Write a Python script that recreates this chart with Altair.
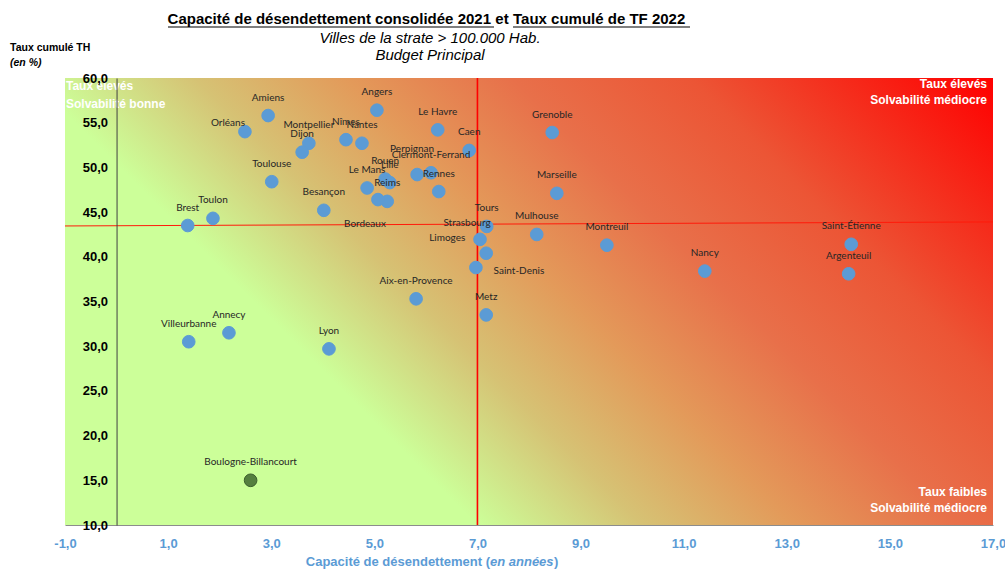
import altair as alt
import pandas as pd

# ---------------- data ----------------
CITIES = ["Amiens", "Orléans", "Montpellier", "Dijon", "Nîmes", "Nantes", "Angers",
          "Le Havre", "Caen", "Grenoble", "Toulouse", "Perpignan", "Clermont-Ferrand",
          "Rennes", "Le Mans", "Rouen", "Lille", "Reims", "Bordeaux", "Marseille",
          "Besançon", "Brest", "Toulon", "Tours", "Strasbourg", "Limoges", "Saint-Denis",
          "Mulhouse", "Montreuil", "Nancy", "Saint-Étienne", "Argenteuil",
          "Aix-en-Provence", "Metz", "Villeurbanne", "Annecy", "Lyon",
          "Boulogne-Billancourt"]
CAPACITE = [2.94, 2.49, 3.73, 3.60, 4.45, 4.76, 5.05,
            6.23, 6.84, 8.45, 3.01, 5.83, 6.10,
            6.25, 4.86, 5.21, 5.30, 5.25, 5.07, 8.54,
            4.02, 1.38, 1.87, 7.18, 7.05, 7.17, 6.97,
            8.15, 9.51, 11.41, 14.25, 14.20,
            5.81, 7.17, 1.40, 2.18, 4.12,
            2.60]
TAUX = [55.8, 54.0, 52.7, 51.7, 53.1, 52.7, 56.4,
        54.2, 51.9, 53.9, 48.4, 49.2, 49.4,
        47.3, 47.7, 48.7, 48.3, 46.2, 46.4, 47.1,
        45.2, 43.5, 44.3, 43.4, 41.95, 40.4, 38.8,
        42.5, 41.3, 38.4, 41.4, 38.1,
        35.3, 33.5, 30.5, 31.5, 29.7,
        15.0]
HIGHLIGHT = ["Boulogne-Billancourt"]

X_DOMAIN = [-1, 17]
Y_DOMAIN = [10, 60]
X_TICKS = [-1, 1, 3, 5, 7, 9, 11, 13, 15, 17]
Y_TICKS = [10, 15, 20, 25, 30, 35, 40, 45, 50, 55, 60]

# reference lines
VLINE_X = [7.0, 7.0]
VLINE_Y = [10, 60]
HLINE_X = [-1, 17]
HLINE_Y = [43.45, 43.9]

# label placement (pixel offsets from each dot), layout only
LABEL_OFFSETS = {
    "Orléans": (-17, -9),
    "Perpignan": (-5, -26),
    "Bordeaux": (-13, 24),
    "Strasbourg": (-13, -16),
    "Limoges": (-39, -15),
    "Saint-Denis": (43, 3),
}
DEFAULT_OFFSET = (0, -18)

# ---------------- layout ----------------
W, H = 928, 447
PAD = {"left": 65, "top": 78, "right": 12, "bottom": 45}
FONT = "Liberation Sans"
BLUE = "#5b9bd5"

df = pd.DataFrame({"city": CITIES, "x": CAPACITE, "y": TAUX})
df["off"] = [LABEL_OFFSETS.get(c, DEFAULT_OFFSET) for c in CITIES]
df["fill"] = ["#557f3f" if c in HIGHLIGHT else BLUE for c in CITIES]
df["stroke"] = ["#3b5e2c" if c in HIGHLIGHT else BLUE for c in CITIES]

label_expr = "replace(replace(format(datum.value, '.1f'), '.', ','), '\u2212', '-')"

x_scale = alt.Scale(domain=X_DOMAIN, nice=False, zero=False)
y_scale = alt.Scale(domain=Y_DOMAIN, nice=False, zero=False)

x_axis = alt.Axis(values=X_TICKS, labelExpr=label_expr, labelColor=BLUE, labelFont=FONT,
                  labelFontSize=13, labelFontWeight="bold", ticks=False, grid=False,
                  domainColor="#8c8c8c", domainWidth=1, labelPadding=12, title=None,
                  zindex=1, labelFlush=False, labelOverlap=False)
y_axis = alt.Axis(values=Y_TICKS, labelExpr=label_expr, labelColor="#000000", labelFont=FONT,
                  labelFontSize=13, labelFontWeight="bold", ticks=False, grid=False,
                  domainColor="#404040", domainWidth=1, labelPadding=9, title=None,
                  offset=-(W / (X_DOMAIN[1] - X_DOMAIN[0])) * (0 - X_DOMAIN[0]),
                  zindex=1, labelFlush=False, labelOverlap=False)

X = lambda: alt.X("x:Q", scale=x_scale, axis=x_axis)
Y = lambda: alt.Y("y:Q", scale=y_scale, axis=y_axis)

# gradient background over the whole plotting area
bg_df = pd.DataFrame({"x": [X_DOMAIN[0]], "x2": [X_DOMAIN[1]],
                      "y": [Y_DOMAIN[0]], "y2": [Y_DOMAIN[1]]})
gradient = alt.Gradient(
    gradient="linear",
    x1=0, y1=1, x2=1.2026, y2=0.4207,
    stops=[
        alt.GradientStop(color="#ccff99", offset=0),
        alt.GradientStop(color="#ccff99", offset=0.30),
        alt.GradientStop(color="#d6c274", offset=0.42),
        alt.GradientStop(color="#e39a5a", offset=0.53),
        alt.GradientStop(color="#e8704a", offset=0.65),
        alt.GradientStop(color="#ec5535", offset=0.78),
        alt.GradientStop(color="#ff0000", offset=1.0),
    ],
)
bg = alt.Chart(bg_df).mark_rect(fill=gradient, strokeWidth=0).encode(
    x=X(), x2="x2:Q", y=Y(), y2="y2:Q",
)

vline = alt.Chart(pd.DataFrame({"x": VLINE_X, "y": VLINE_Y})).mark_line(
    color="#ff0000", strokeWidth=1.6).encode(x=X(), y=Y())
hline = alt.Chart(pd.DataFrame({"x": HLINE_X, "y": HLINE_Y})).mark_line(
    color="#ff1a0a", strokeWidth=1).encode(x=X(), y=Y())

points = alt.Chart(df[["city", "x", "y", "fill", "stroke"]]).mark_circle(
    size=160, opacity=1, strokeWidth=1).encode(
    x=X(), y=Y(),
    fill=alt.Fill("fill:N", scale=None),
    stroke=alt.Stroke("stroke:N", scale=None),
)

# one text layer per label offset
label_layers = []
for off in sorted(set(df["off"])):
    sub = df[df["off"] == off][["city", "x", "y"]]
    label_layers.append(
        alt.Chart(sub).mark_text(font="Lato", fontSize=10, color="#262626",
                                 baseline="middle", align="center",
                                 dx=off[0], dy=off[1]).encode(
            x=X(), y=Y(), text="city:N")
    )

# ---------------- texts (titles and quadrant notes) ----------------
def txt(text, x, y, size, align="left", weight="normal", style="normal", color="#000000",
        font=FONT):
    return alt.Chart(pd.DataFrame({"t": [text]})).mark_text(
        align=align, baseline="middle", fontSize=size, fontWeight=weight, fontStyle=style,
        color=color, font=font).encode(x=alt.value(x), y=alt.value(y), text="t:N")

def uline(x1, x2, y):
    return alt.Chart(pd.DataFrame({"a": [0]})).mark_rule(color="#000000", strokeWidth=1.2).encode(
        x=alt.value(x1), x2=alt.value(x2), y=alt.value(y))

L, T = PAD["left"], PAD["top"]
texts = [
    txt("Capacité de désendettement consolidée 2021", 491 - L, 19 - T, 15, "right", "bold"),
    txt("et", 502 - L, 19 - T, 15, "center", "bold"),
    txt("Taux cumulé de TF 2022", 513 - L, 19 - T, 15, "left", "bold"),
    uline(168 - L, 494 - L, 27 - T),
    uline(513 - L, 690 - L, 27 - T),
    txt("Villes de la strate > 100.000 Hab.", 430 - L, 38 - T, 15, "center", "normal", "italic"),
    txt("Budget Principal", 430 - L, 55 - T, 15, "center", "normal", "italic"),
    txt("Taux cumulé  TH", 10 - L, 48 - T, 10.5, "left", "bold"),
    txt("(en %)", 10 - L, 63 - T, 10.5, "left", "bold", "italic"),
    txt("Taux élevés", 1, 86 - T, 12, "left", "bold", color="#ffffff"),
    txt("Solvabilité bonne", 1, 104 - T, 12, "left", "bold", color="#ffffff"),
    txt("Taux élevés", 987 - L, 84 - T, 12, "right", "bold", color="#ffffff"),
    txt("Solvabilité médiocre", 987 - L, 100 - T, 12, "right", "bold", color="#ffffff"),
    txt("Taux faibles", 987 - L, 492 - T, 12, "right", "bold", color="#ffffff"),
    txt("Solvabilité médiocre", 987 - L, 508 - T, 12, "right", "bold", color="#ffffff"),
    txt("Capacité de désendettement (", 490 - L, 562 - T, 13, "right", "bold", color=BLUE),
    txt("en années", 490 - L, 562 - T, 13, "left", "bold", "italic", color=BLUE),
    txt(")", 554 - L, 562 - T, 13, "left", "bold", color=BLUE),
]

chart = alt.layer(bg, vline, hline, points, *label_layers, *texts).properties(
    width=W, height=H,
    autosize=alt.AutoSizeParams(type="none"),
    padding=PAD,
    background="#ffffff",
).configure_view(stroke=None)

chart.save("out.html", embed_options={"renderer": "svg", "actions": False})
